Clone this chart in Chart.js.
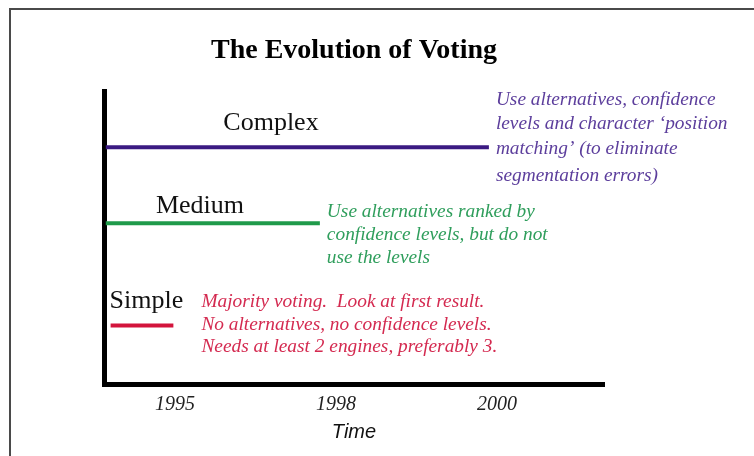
<!DOCTYPE html>
<html>
<head>
<meta charset="utf-8">
<script src="https://cdn.jsdelivr.net/npm/chart.js@4.4.1/dist/chart.umd.min.js"></script>
<style>
  html, body { margin: 0; padding: 0; background: #fff; overflow: hidden; }
  #wrap { position: relative; width: 754px; height: 456px; }
  #frame { position: absolute; left: 9px; top: 8px; width: 800px; height: 500px; border: 2px solid #4a4a4a; }
  #voting-chart { position: absolute; left: 0; top: 0; }
</style>
</head>
<body>
<div id="wrap">
  <div id="frame"></div>
  <canvas id="voting-chart" width="754" height="456"></canvas>
</div>
<script>
// time axis: tick labels sit at positions 1, 2, 3 of an ordinal time scale
var timeLabels = ['1995', '1998', '2000'];
var timeTicks = [1, 2, 3];

// voting approaches, their level and how long they span on the time scale
var levelNames = ['Simple', 'Medium', 'Complex'];
var levelValues = [20, 55, 81];
var spanStart = [0.6, 0.57, 0.57];
var spanEnd = [0.99, 1.9, 2.95];

var levelNotes = [
    ['Majority voting.  Look at first result.', 'No alternatives, no confidence levels.', 'Needs at least 2 engines, preferably 3.'],
    ['Use alternatives ranked by', 'confidence levels, but do not', 'use the levels'],
    ['Use alternatives, confidence', 'levels and character \u2018position', 'matching\u2019 (to eliminate', 'segmentation errors)']
];

var lineColors = ['#d3143c', '#1f9a4a', '#3b1a82'];
var noteColors = ['#d42a50', '#2f9e5c', '#5c3e9c'];

// where each level's name and note sit, relative to its line
var labelLayout = [
    { nameDx: 0, nameAnchor: 'start', nameDy: -24, noteDx: 28, noteDy: -23, noteGap: 22.5 },
    { nameDx: 96, nameAnchor: 'center', nameDy: -17, noteDx: 7, noteDy: -11, noteGap: 23 },
    { nameDx: 167, nameAnchor: 'center', nameDy: -24, noteDx: 7, noteDy: -47, noteGap: 24.5 }
];

var datasets = levelNames.map(function(name, i) {
    return {
        label: name,
        data: [{ x: spanStart[i], y: levelValues[i] }, { x: spanEnd[i], y: levelValues[i] }],
        borderColor: lineColors[i],
        borderWidth: 4,
        borderCapStyle: 'butt',
        pointRadius: 0,
        fill: false
    };
});

// draws level names and notes next to their lines
var levelText = {
    id: 'levelText',
    afterDatasetsDraw: function(chart) {
        var ctx = chart.ctx;
        var xs = chart.scales.x, ys = chart.scales.y;
        ctx.save();
        ctx.textBaseline = 'middle';
        levelNames.forEach(function(name, i) {
            var lay = labelLayout[i];
            var y = ys.getPixelForValue(levelValues[i]);
            var x0 = xs.getPixelForValue(spanStart[i]);
            var x1 = xs.getPixelForValue(spanEnd[i]);

            ctx.fillStyle = '#111';
            ctx.font = '26px "Liberation Serif", "Times New Roman", serif';
            ctx.textAlign = lay.nameAnchor;
            ctx.fillText(name, (i === 0 ? x0 - 1 : xs.left) + lay.nameDx, y + lay.nameDy);

            // the notes are a little wider than the font, as in the slide
            ctx.fillStyle = noteColors[i];
            ctx.font = 'italic 18px "Liberation Serif", "Times New Roman", serif';
            ctx.textAlign = 'left';
            levelNotes[i].forEach(function(line, j) {
                var extra = (i === 2 && j === 3) ? 3 : 0;
                ctx.save();
                ctx.translate(x1 + lay.noteDx, y + lay.noteDy + j * lay.noteGap + extra);
                ctx.scale(1.075, 1);
                ctx.fillText(line, 0, 0);
                ctx.restore();
            });
        });
        ctx.restore();
    }
};

var ctx = document.getElementById('voting-chart').getContext('2d');
var votingChart = new Chart(ctx, {
    type: 'line',
    data: { datasets: datasets },
    options: {
        responsive: false,
        animation: false,
        layout: { padding: { left: 104, right: 150, top: 34, bottom: 0 } },
        plugins: {
            legend: { display: false },
            tooltip: { enabled: false },
            title: {
                display: true,
                text: 'The Evolution of Voting',
                color: '#000',
                font: { family: '"Liberation Serif", "Times New Roman", serif', size: 28, weight: 'bold', lineHeight: 1.2 },
                padding: { top: 0, bottom: 24 }
            }
        },
        scales: {
            x: {
                type: 'linear',
                min: 0.559,
                max: 3.665,
                grid: { display: false, drawTicks: false },
                border: { display: true, color: '#000', width: 5 },
                afterBuildTicks: function(scale) {
                    scale.ticks = timeTicks.map(function(v) { return { value: v }; });
                },
                afterFit: function(scale) { scale.height = 72; },
                ticks: {
                    padding: 9,
                    color: '#222',
                    font: { family: '"Liberation Serif", "Times New Roman", serif', size: 20, style: 'italic' },
                    callback: function(value) {
                        var k = timeTicks.indexOf(value);
                        return k >= 0 ? timeLabels[k] : '';
                    }
                },
                title: {
                    display: true,
                    text: 'Time',
                    color: '#111',
                    font: { family: '"Liberation Sans", Arial, sans-serif', size: 20, style: 'italic' },
                    padding: { top: 0, bottom: 12 }
                }
            },
            y: {
                type: 'linear',
                min: 0,
                max: 100,
                grid: { display: false, drawTicks: false },
                border: { display: true, color: '#000', width: 5 },
                ticks: { display: false },
                afterFit: function(scale) { scale.width = 0; }
            }
        }
    },
    plugins: [levelText]
});
</script>
</body>
</html>
